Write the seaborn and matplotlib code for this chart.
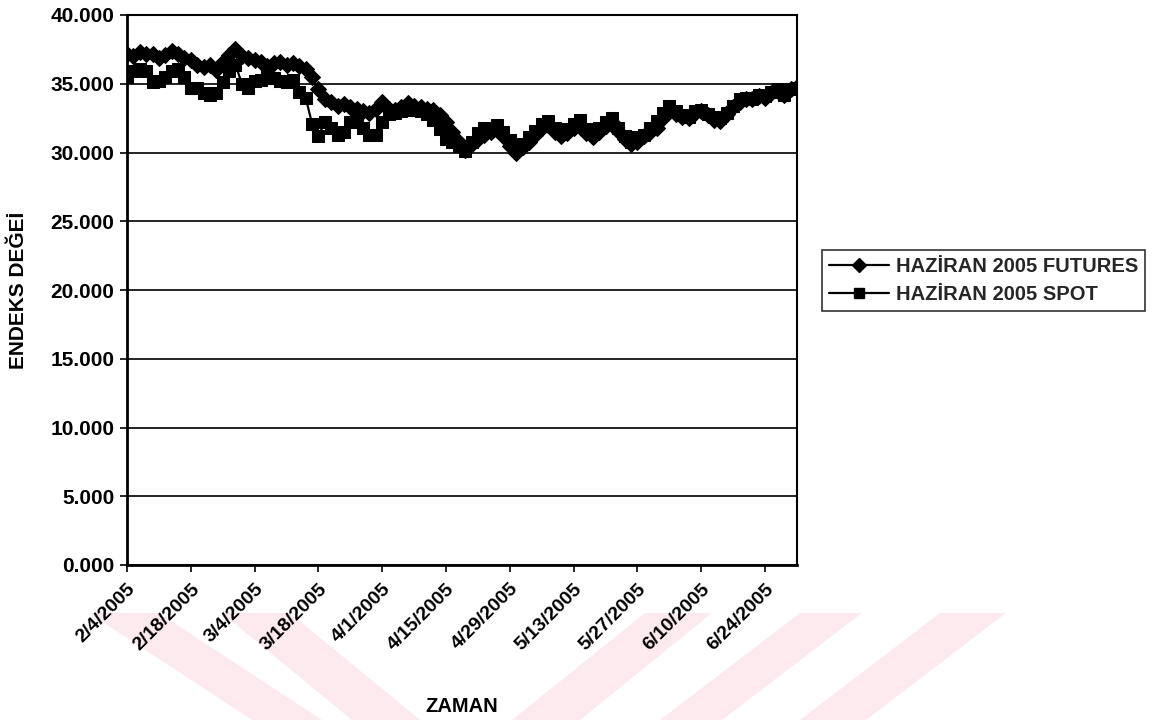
import numpy as np
import pandas as pd
import seaborn as sns
import matplotlib
matplotlib.use("Agg")
import matplotlib.pyplot as plt
from matplotlib.patches import Polygon
from matplotlib.lines import Line2D

# ---------------- data ----------------
futures = [37200, 37000, 37300, 37200, 37150, 36900, 37100, 37350, 37200, 36900,
           36700, 36400, 36200, 36400, 36000, 36600, 37100, 37550, 37000, 36900,
           36700, 36600, 36300, 36500, 36600, 36400, 36500, 36300, 36100, 35500,
           34600, 33900, 33700, 33400, 33500, 33300, 33200, 33000, 32900, 33200,
           33700, 33200, 33100, 33300, 33600, 33400, 33300, 33200, 33100, 32700,
           32200, 31500, 30800, 30200, 30600, 31000, 31300, 31500, 31700, 31200,
           30500, 30000, 30400, 30800, 31300, 31800, 32000, 31500, 31200, 31400,
           31800, 32000, 31400, 31100, 31500, 31900, 32200, 31600, 31000, 30600,
           30800, 31200, 31500, 31800, 32500, 33100, 32800, 32600, 32500, 32900,
           33000, 32700, 32400, 32300, 32800, 33300, 33700, 33900, 33900, 34100,
           34000, 34300, 34500, 34200, 34600, 34800]

spot = [35500, 35900, 36100, 35900, 35100, 35200, 35500, 35900, 36100, 35500,
        34700, 34700, 34300, 34200, 34300, 35100, 35900, 36400, 35000, 34700,
        35200, 35300, 35600, 35400, 35200, 35100, 35300, 34400, 34000, 32100,
        31200, 32200, 31800, 31300, 31500, 32200, 32500, 31800, 31300, 31300,
        32200, 32800, 32900, 33000, 33100, 33100, 33000, 32800, 32400, 31700,
        31000, 30800, 30500, 30100, 30800, 31400, 31800, 31700, 32000, 31500,
        30900, 30300, 30600, 31100, 31600, 32100, 32300, 31800, 31400, 31700,
        32100, 32400, 31700, 31500, 31800, 32200, 32500, 31800, 31200, 30800,
        31100, 31300, 31800, 32300, 32900, 33400, 33000, 32700, 32600, 33000,
        33100, 32800, 32600, 32500, 32900, 33400, 33900, 34000, 33900, 34200,
        34100, 34400, 34600, 34200, 34600, 34700]

tick_labels = ["2/4/2005", "2/18/2005", "3/4/2005", "3/18/2005", "4/1/2005",
               "4/15/2005", "4/29/2005", "5/13/2005", "5/27/2005", "6/10/2005",
               "6/24/2005"]

series_names = ["HAZİRAN 2005 FUTURES", "HAZİRAN 2005 SPOT"]
y_ticks = [0, 5000, 10000, 15000, 20000, 25000, 30000, 35000, 40000]

n = len(futures)
pos = np.arange(n)
df = pd.DataFrame({
    "pos": np.concatenate([pos, pos]),
    "value": futures + spot,
    "series": [series_names[0]] * n + [series_names[1]] * n,
})

# ---------------- style ----------------
sns.set_theme(style="white")
plt.rcParams["font.family"] = ["Liberation Sans", "DejaVu Sans"]
plt.rcParams["font.weight"] = "bold"

W, H = 1160, 720
fig = plt.figure(figsize=(W / 100, H / 100), dpi=100)
fig.patch.set_facecolor("white")

# faint pink watermark stripes at the bottom of the scanned page
pink = "#fdeaee"
stripes = [
    [(89, 613), (159, 613), (322, 720), (252, 720)],
    [(222, 613), (290, 613), (420, 720), (352, 720)],
    [(645, 613), (712, 613), (580, 720), (512, 720)],
    [(800, 613), (862, 613), (722, 720), (660, 720)],
    [(940, 613), (1006, 613), (866, 720), (800, 720)],
]
for st in stripes:
    pts = [(x / W, 1 - y / H) for x, y in st]
    fig.patches.append(Polygon(pts, closed=True, transform=fig.transFigure,
                               facecolor=pink, edgecolor="none", zorder=-5))

ax = fig.add_axes([127 / W, 1 - 565 / H, 670 / W, 550 / H])
ax.set_facecolor("none")

sub_f = df[df["series"] == series_names[0]]
sub_s = df[df["series"] == series_names[1]]
sns.lineplot(data=sub_s, x="pos", y="value", ax=ax, color="black",
             marker="s", markersize=8.5, markeredgecolor="black",
             linewidth=1.6, legend=False, zorder=3)
sns.lineplot(data=sub_f, x="pos", y="value", ax=ax, color="black",
             marker="D", markersize=8.5, markeredgecolor="black",
             linewidth=1.6, legend=False, zorder=4)

ax.set_xlim(0, n - 1)
ax.set_ylim(0, 40000)
ax.set_yticks(y_ticks)
ax.set_yticklabels([f"{v/1000:.3f}" for v in y_ticks],
                   fontsize=15, fontweight="bold")
tick_pos = np.arange(0, 10 * len(tick_labels), 10)
ax.set_xticks(tick_pos)
ax.set_xticklabels(tick_labels, rotation=45, ha="right",
                   rotation_mode="anchor", fontsize=14, fontweight="bold")

ax.grid(axis="y", color="black", linewidth=1.2)
ax.grid(axis="x", visible=False)
ax.set_axisbelow(True)
for s in ax.spines.values():
    s.set_visible(True)
    s.set_color("black")
    s.set_linewidth(1.5)
ax.spines["left"].set_linewidth(2)
ax.spines["bottom"].set_linewidth(2)

ax.tick_params(axis="both", which="major", direction="out", length=5,
               width=1.2, color="black", left=True, bottom=True,
               labelcolor="black")
ax.tick_params(axis="y", pad=4)
ax.tick_params(axis="x", pad=6)

ax.set_xlabel("ZAMAN", fontsize=14.5, fontweight="bold", color="black")
ax.xaxis.set_label_coords(0.5, -0.24)
ax.set_ylabel("ENDEKS DEĞEİ", fontsize=15, fontweight="bold", color="black")
ax.yaxis.set_label_coords(-0.148, 0.5)

handles = [
    Line2D([0], [0], color="black", linewidth=1.6, marker="D", markersize=7),
    Line2D([0], [0], color="black", linewidth=1.6, marker="s", markersize=7),
]
leg = fig.legend(handles, series_names, loc="upper left",
                 bbox_to_anchor=(822 / W, 1 - 250 / H),
                 frameon=True, fancybox=False, edgecolor="black",
                 prop={"size": 14.5, "weight": "bold"},
                 handlelength=3.0, handletextpad=0.3, borderpad=0.35,
                 labelspacing=0.45, borderaxespad=0)
leg.get_frame().set_linewidth(1.2)

fig.savefig("out.png", dpi=100, facecolor="white")
